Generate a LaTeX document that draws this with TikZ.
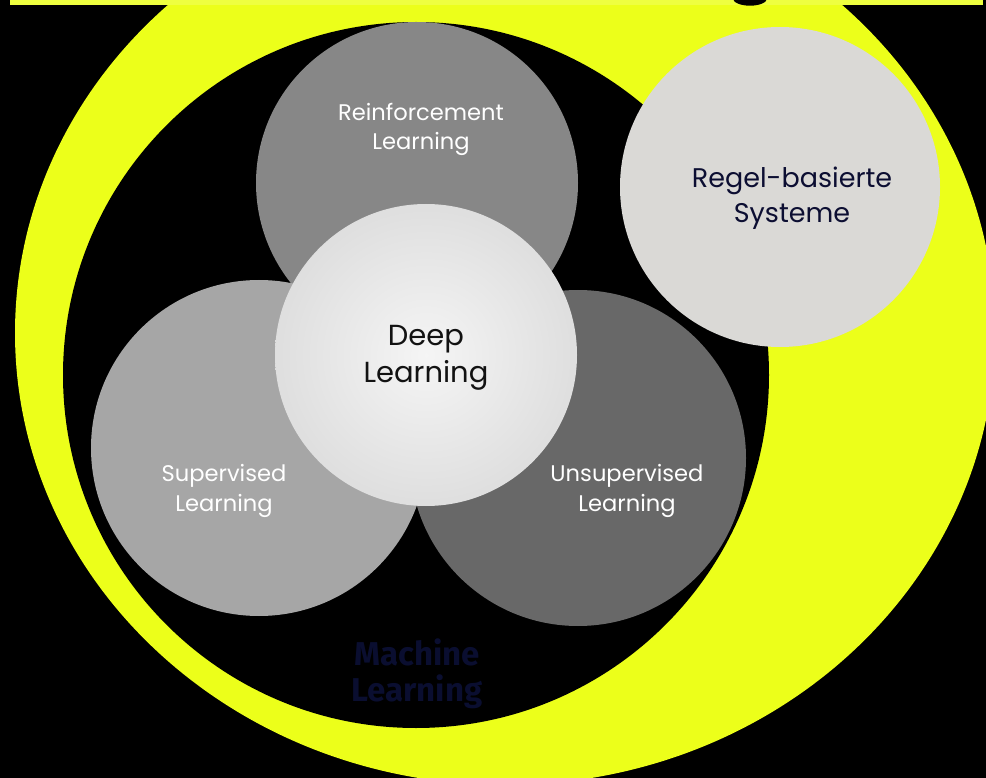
\documentclass[tikz,border=0pt]{standalone}
\usepackage{fontspec}
\setmainfont{Poppins}
\newfontfamily\mlfont{Fira Sans}
\definecolor{bgyellow}{RGB}{236,255,26}
\definecolor{bandyellow}{RGB}{238,255,64}
\definecolor{rlgray}{RGB}{135,135,135}
\definecolor{slgray}{RGB}{166,166,166}
\definecolor{ulgray}{RGB}{104,104,104}
\definecolor{rbgray}{RGB}{218,217,214}
\definecolor{dledge}{RGB}{200,200,200}
\definecolor{navy}{RGB}{12,14,50}
\definecolor{mlnavy}{RGB}{10,14,48}
\pgfdeclareradialshading{dlshade}{\pgfpoint{0bp}{0bp}}{color(0bp)=(white!96!black); color(50bp)=(dledge); color(72bp)=(dledge)}
\begin{document}
\begin{tikzpicture}[x=1pt,y=-1pt,
  disc/.style={circle, inner sep=0pt, draw=none},
  lbl/.style={align=center, inner sep=0pt}]
\useasboundingbox (0,0) rectangle (986,778);
\clip (0,0) rectangle (986,778);
\fill[black] (0,0) rectangle (986,778);
% outer yellow shape
\fill[bgyellow] (505,333) ellipse [x radius=490, y radius=452];
% top band and descender
\fill[bandyellow] (10,0) rectangle (983,5);
\fill[black] (750,-1.5) ellipse [x radius=17, y radius=7.2];
% machine learning circle
\node[disc, fill=black, minimum size=706pt] (ml) at (416,375) {};
% rule based systems
\node[disc, fill=rbgray, minimum size=320pt] (rb) at (780,187) {};
% reinforcement
\node[disc, fill=rlgray, minimum size=322pt] (rl) at (417,183) {};
% supervised
\node[disc, fill=slgray, minimum size=336pt] (sl) at (259,448) {};
% unsupervised
\node[disc, fill=ulgray, minimum size=336pt] (ul) at (578,458) {};
% deep learning
\node[disc, shading=dlshade, minimum size=302pt] (dl) at (426,355) {};
% labels
\node[lbl, text=white, font=\fontsize{22.6}{29}\selectfont] (rlt) at (421,129) {Reinforcement\\Learning};
\node[lbl, text=white, font=\fontsize{22.6}{30}\selectfont] (slt) at (224,491) {Supervised\\Learning};
\node[lbl, text=white, font=\fontsize{22.6}{30}\selectfont] (ult) at (627,491) {Unsupervised\\Learning};
\node[lbl, text=black!93, font=\fontsize{29}{37}\selectfont] (dlt) at (426,358) {Deep\\Learning};
\node[lbl, text=navy, font=\fontsize{27}{35}\selectfont] (rbt) at (792,198) {Regel-basierte\\Systeme};
\node[lbl, text=mlnavy, font=\mlfont\bfseries\fontsize{33}{36}\selectfont] (mlt) at (417,674) {Machine\\Learning};
\end{tikzpicture}
\end{document}
